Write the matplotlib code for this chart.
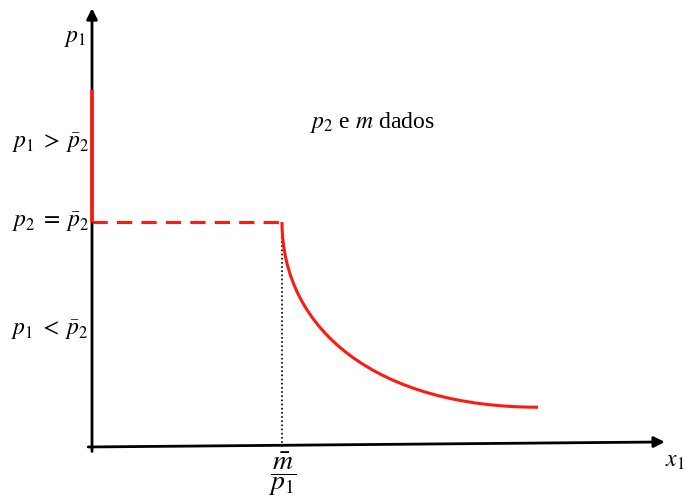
import matplotlib
matplotlib.use("Agg")
import matplotlib.pyplot as plt
from matplotlib.path import Path
from matplotlib.patches import PathPatch

plt.rcParams["mathtext.fontset"] = "stix"
plt.rcParams["font.family"] = ["Liberation Serif", "DejaVu Serif"]

# budget-line case: income m and p2 fixed, demand for good 1 as p1 varies
m_over_p1 = 4.0          # x1 where the kink sits
p2_bar = 3.0             # price level p1 = p2
vertical_top = 4.76      # top of the red segment on the p1 axis

# downward-sloping branch as a cubic Bezier: start, two controls, end
curve_x = [4.00, 4.00, 6.00, 9.39]
curve_y = [3.00, 1.56, 0.53, 0.53]

# axis extents
y_axis_top = 5.85
x_axis_end = 12.06
x_axis_rise = 0.067

red = "#ff1a0f"

fig = plt.figure(figsize=(6.86, 5.0), dpi=100)
ax = fig.add_axes([0, 0, 1, 1])
ax.set_xlim(-1.937, 12.505)
ax.set_ylim(-0.707, 5.96)
ax.axis("off")

# axes with arrow heads
arrow = dict(arrowstyle="-|>", color="black", lw=2.0, mutation_scale=16,
             shrinkA=0, shrinkB=0)
ax.annotate("", xy=(0, y_axis_top), xytext=(0, -0.06), arrowprops=arrow)
ax.annotate("", xy=(x_axis_end, x_axis_rise), xytext=(-0.08, 0.0),
            arrowprops=arrow)

# vertical part of demand on the p1 axis and the dashed threshold
ax.plot([0, 0], [p2_bar, vertical_top], color=red, lw=2.6,
        solid_capstyle="butt", zorder=5)
ax.plot([0, m_over_p1], [p2_bar, p2_bar], color=red, lw=2.2,
        dashes=(5, 3), zorder=5)
ax.plot([m_over_p1, m_over_p1], [0, p2_bar], color="black", lw=1.2,
        linestyle=(0, (1, 1.5)), zorder=4)

codes = [Path.MOVETO, Path.CURVE4, Path.CURVE4, Path.CURVE4]
branch = Path(list(zip(curve_x, curve_y)), codes)
ax.add_patch(PathPatch(branch, facecolor="none", edgecolor=red, lw=2.2,
                       capstyle="butt", zorder=5))

fs = 17
ax.text(-0.36, 5.45, r"$p_1$", fontsize=fs, ha="center", va="center")
ax.text(-0.05, 4.05, r"$p_1 \;>\; \bar{p}_2$", fontsize=fs, ha="right", va="center")
ax.text(-0.05, 3.0, r"$p_2 \;=\; \bar{p}_2$", fontsize=fs, ha="right", va="center")
ax.text(-0.08, 1.56, r"$p_1 \;<\; \bar{p}_2$", fontsize=fs, ha="right", va="center")
ax.text(4.59, 4.33, r"$p_2$ e $m$ dados", fontsize=fs, ha="left", va="center")
ax.text(12.27, -0.2, r"$x_1$", fontsize=fs, ha="center", va="center")
ax.text(m_over_p1, -0.36, r"$\dfrac{\bar{m}}{p_1}$", fontsize=20,
        ha="center", va="center")

fig.savefig("out.png", dpi=100)
